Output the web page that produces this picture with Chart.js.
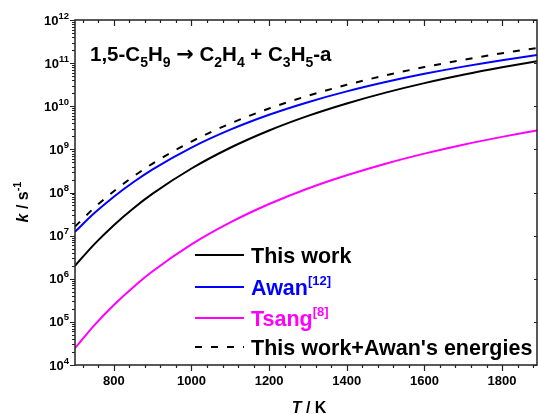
<!DOCTYPE html>
<html>
<head>
<meta charset="utf-8">
<script src="https://cdn.jsdelivr.net/npm/chart.js@4.4.0/dist/chart.umd.min.js"></script>
<style>
  html, body { margin: 0; padding: 0; background: #fff; }
  #wrap { width: 538px; height: 414px; }
</style>
</head>
<body>
<div id="wrap"><canvas id="chartCanvas" width="538" height="414"></canvas></div>
<script>
// temperature grid, K
const temps = [700, 750, 800, 850, 900, 1000, 1100, 1200, 1300, 1400, 1500, 1600, 1700, 1800, 1890];

// rate constants k / s^-1 for 1,5-C5H9 -> C2H4 + C3H5-a
const kThisWork = [2.0e6, 6.35e6, 1.75e7, 4.27e7, 9.4e7, 3.6e8, 1.09e9, 2.74e9, 5.97e9, 1.16e10, 2.07e10, 3.44e10, 5.37e10, 7.98e10, 1.10e11];
const kAwan = [1.23e7, 3.33e7, 7.99e7, 1.73e8, 3.44e8, 1.10e9, 2.86e9, 6.34e9, 1.24e10, 2.21e10, 3.64e10, 5.64e10, 8.30e10, 1.17e11, 1.54e11];
const kTsang = [2.45e4, 8.41e4, 2.47e5, 6.38e5, 1.49e6, 6.25e6, 2.02e7, 5.40e7, 1.24e8, 2.51e8, 4.65e8, 7.96e8, 1.28e9, 1.95e9, 2.75e9];
const kAwanEnergies = [1.62e7, 4.45e7, 1.07e8, 2.34e8, 4.69e8, 1.52e9, 3.98e9, 8.89e9, 1.75e10, 3.14e10, 5.20e10, 8.09e10, 1.19e11, 1.69e11, 2.24e11];

const seriesLabels = ['This work', 'Awan', 'Tsang', "This work+Awan's energies"];
const seriesRefs = ['', '[12]', '[8]', ''];

const xTicks = [800, 1000, 1200, 1400, 1600, 1800];
const xTickLabels = ['800', '1000', '1200', '1400', '1600', '1800'];
const yExponents = [4, 5, 6, 7, 8, 9, 10, 11, 12];

const FONT = "'Liberation Sans', Arial, sans-serif";

const toPoints = (ks) => temps.map((t, i) => ({ x: t, y: ks[i] }));

// draws a row of text pieces (sub/superscripts, italics) starting at x
function drawRuns(ctx, x, y, runs, align) {
    const fontOf = (r) => `${r.italic ? 'italic ' : ''}bold ${r.size}px ${r.family || FONT}`;
    const widths = runs.map((r) => {
        ctx.font = fontOf(r);
        return ctx.measureText(r.t).width;
    });
    const total = widths.reduce((a, b) => a + b, 0);
    let cx = x;
    if (align === 'center') cx = x - total / 2;
    if (align === 'right') cx = x - total;
    runs.forEach((r, i) => {
        ctx.font = fontOf(r);
        ctx.fillStyle = r.color || '#000';
        ctx.fillText(r.t, cx, y + (r.dy || 0));
        cx += widths[i];
    });
    return cx;
}

const frameAndText = {
    id: 'frameAndText',
    afterDraw(chart) {
        const ctx = chart.ctx;
        const { left, right, top, bottom } = chart.chartArea;
        const xs = chart.scales.x;
        const ys = chart.scales.y;
        ctx.save();
        ctx.textBaseline = 'alphabetic';
        ctx.textAlign = 'left';

        // frame
        ctx.strokeStyle = '#222';
        ctx.lineWidth = 1.5;
        ctx.strokeRect(left, top, right - left, bottom - top);

        // x ticks: majors every 200, minors every 40
        ctx.lineWidth = 1.2;
        ctx.beginPath();
        for (let v = 720; v <= 1890; v += 40) {
            const px = Math.round(xs.getPixelForValue(v)) + 0.5;
            const len = xTicks.includes(v) ? 6 : 3;
            ctx.moveTo(px, bottom); ctx.lineTo(px, bottom + len);
            ctx.moveTo(px, top); ctx.lineTo(px, top + len);
        }
        // y ticks: decades plus 2..9 minors on the left, decades only on the right
        yExponents.forEach((e) => {
            const py = Math.round(ys.getPixelForValue(Math.pow(10, e))) + 0.5;
            ctx.moveTo(left - 5, py); ctx.lineTo(left, py);
            ctx.moveTo(right - 3, py); ctx.lineTo(right, py);
            if (e < 12) {
                for (let m = 2; m <= 9; m++) {
                    const pm = Math.round(ys.getPixelForValue(m * Math.pow(10, e))) + 0.5;
                    ctx.moveTo(left - 3, pm); ctx.lineTo(left, pm);
                }
            }
        });
        ctx.stroke();

        // tick labels
        xTicks.forEach((v, i) => {
            drawRuns(ctx, xs.getPixelForValue(v), bottom + 20, [{ t: xTickLabels[i], size: 13 }], 'center');
        });
        yExponents.forEach((e) => {
            const py = ys.getPixelForValue(Math.pow(10, e));
            drawRuns(ctx, left - 6, py + 4.5, [
                { t: '10', size: 13 },
                { t: String(e), size: 9.5, dy: -6 }
            ], 'right');
        });

        // axis titles
        drawRuns(ctx, 309, 413, [
            { t: 'T', size: 16, italic: true },
            { t: ' / K', size: 16 }
        ], 'center');
        ctx.save();
        ctx.translate(28, 202);
        ctx.rotate(-Math.PI / 2);
        drawRuns(ctx, 0, 0, [
            { t: 'k', size: 16, italic: true },
            { t: ' / s', size: 16 },
            { t: '-1', size: 11, dy: -7 }
        ], 'center');
        ctx.restore();

        // reaction label
        drawRuns(ctx, 90, 61, [
            { t: '1,5-C', size: 20.5 }, { t: '5', size: 14, dy: 6 },
            { t: 'H', size: 20.5 }, { t: '9', size: 14, dy: 6 },
            { t: ' ', size: 20.5 },
            { t: '\u2192', size: 21, family: "'DejaVu Sans', sans-serif" },
            { t: ' C', size: 20.5 }, { t: '2', size: 14, dy: 6 },
            { t: 'H', size: 20.5 }, { t: '4', size: 14, dy: 6 },
            { t: ' + C', size: 20.5 }, { t: '3', size: 14, dy: 6 },
            { t: 'H', size: 20.5 }, { t: '5', size: 14, dy: 6 },
            { t: '-a', size: 20.5 }
        ], 'left');

        // legend
        const rowY = [255, 287, 318, 347];
        chart.data.datasets.forEach((ds, i) => {
            const y = rowY[i];
            ctx.strokeStyle = ds.borderColor;
            ctx.lineWidth = 2;
            ctx.setLineDash(ds.borderDash || []);
            ctx.beginPath();
            ctx.moveTo(195, y); ctx.lineTo(244, y);
            ctx.stroke();
            ctx.setLineDash([]);
            const runs = [{ t: seriesLabels[i], size: 21.5, color: ds.borderColor }];
            if (seriesRefs[i]) runs.push({ t: seriesRefs[i], size: 13, dy: -10, color: ds.borderColor });
            drawRuns(ctx, 251, y + 8, runs, 'left');
        });
        ctx.restore();
    }
};

const line = (ks, color, dash) => ({
    data: toPoints(ks),
    borderColor: color,
    borderWidth: 2,
    borderDash: dash,
    pointRadius: 0,
    fill: false,
    cubicInterpolationMode: 'monotone'
});

new Chart(document.getElementById('chartCanvas').getContext('2d'), {
    type: 'line',
    data: {
        datasets: [
            line(kThisWork, '#000000'),
            line(kAwan, '#0000ff'),
            line(kTsang, '#ff00ff'),
            line(kAwanEnergies, '#000000', [7, 9])
        ]
    },
    options: {
        responsive: false,
        animation: false,
        devicePixelRatio: 1,
        layout: { padding: { left: 75, top: 20, right: 1, bottom: 49 } },
        plugins: { legend: { display: false }, tooltip: { enabled: false } },
        scales: {
            x: { type: 'linear', min: 700, max: 1890, display: false },
            y: { type: 'logarithmic', min: 1e4, max: 1e12, display: false }
        }
    },
    plugins: [frameAndText]
});
</script>
</body>
</html>
